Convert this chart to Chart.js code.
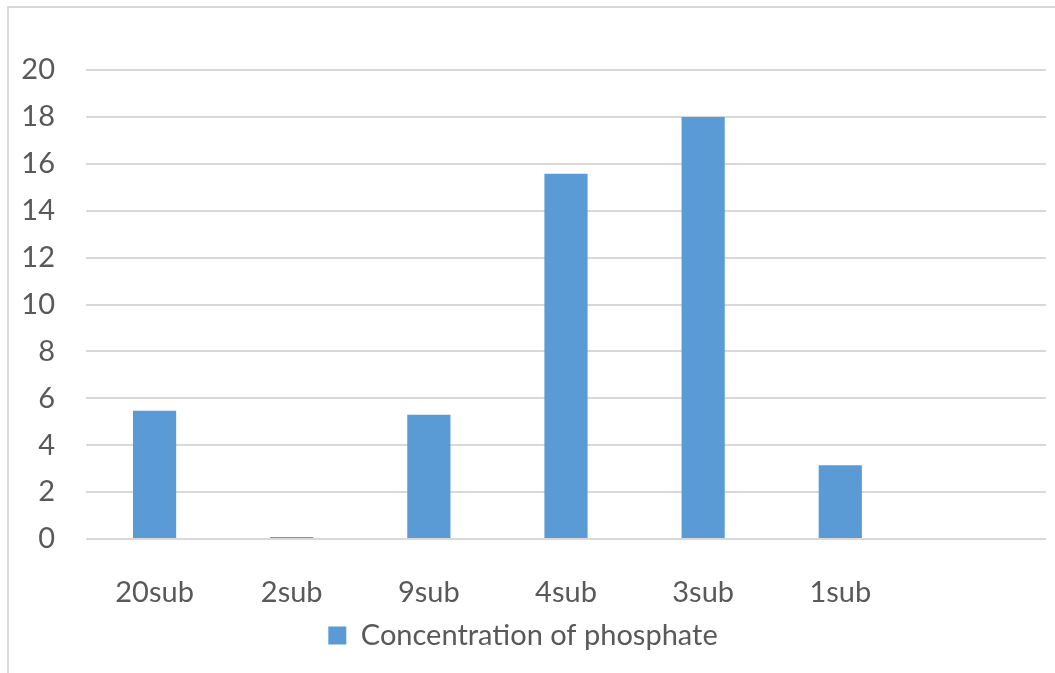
<!DOCTYPE html>
<html>
<head>
<meta charset="utf-8">
<script src="https://cdn.jsdelivr.net/npm/chart.js@4"></script>
<style>
  html, body { margin: 0; padding: 0; background: #fff; overflow: hidden; }
  #frame {
    position: absolute; left: 7px; top: 6px; width: 1100px; height: 700px;
    border-left: 2px solid #d9d9d9; border-top: 2px solid #d9d9d9;
  }
  #wrap { position: absolute; left: 0; top: 0; width: 1055px; height: 673px; }
</style>
</head>
<body>
<div id="frame"></div>
<div id="wrap"><canvas id="chart"></canvas></div>
<script>
// categories (last slot is empty in the original)
const samples = ['20sub', '2sub', '9sub', '4sub', '3sub', '1sub', ''];
// concentration of phosphate
const phosphate = [5.47, 0.09, 5.3, 15.58, 18.0, 3.15, null];
const seriesName = 'Concentration of phosphate';

const textColor = '#595959';
const fontFamily = 'Lato, "Open Sans", sans-serif';

const ctx = document.getElementById('chart').getContext('2d');
new Chart(ctx, {
  type: 'bar',
  data: {
    labels: samples,
    datasets: [{
      label: seriesName,
      data: phosphate,
      backgroundColor: '#5b9bd5',
      borderWidth: 0,
      categoryPercentage: 0.63,
      barPercentage: 0.5
    }]
  },
  options: {
    responsive: true,
    maintainAspectRatio: false,
    animation: false,
    layout: { padding: { top: 70, right: 9, bottom: 13, left: 0 } },
    scales: {
      x: {
        grid: { display: false, drawTicks: false },
        border: { display: false },
        ticks: { color: textColor, font: { family: fontFamily, size: 29 }, padding: 36, maxRotation: 0 },
        afterFit: s => { s.height = 72; }
      },
      y: {
        min: 0, max: 20,
        grid: { color: '#d9d9d9', lineWidth: 2, drawTicks: false },
        border: { display: false },
        ticks: { stepSize: 2, color: textColor, font: { family: fontFamily, size: 29 }, padding: 31 },
        afterFit: s => { s.width = 86; }
      }
    },
    plugins: {
      legend: {
        position: 'bottom',
        labels: {
          color: textColor,
          font: { family: fontFamily, size: 29 },
          boxWidth: 18, boxHeight: 18, padding: 10
        }
      },
      tooltip: { enabled: false }
    }
  }
});
</script>
</body>
</html>
